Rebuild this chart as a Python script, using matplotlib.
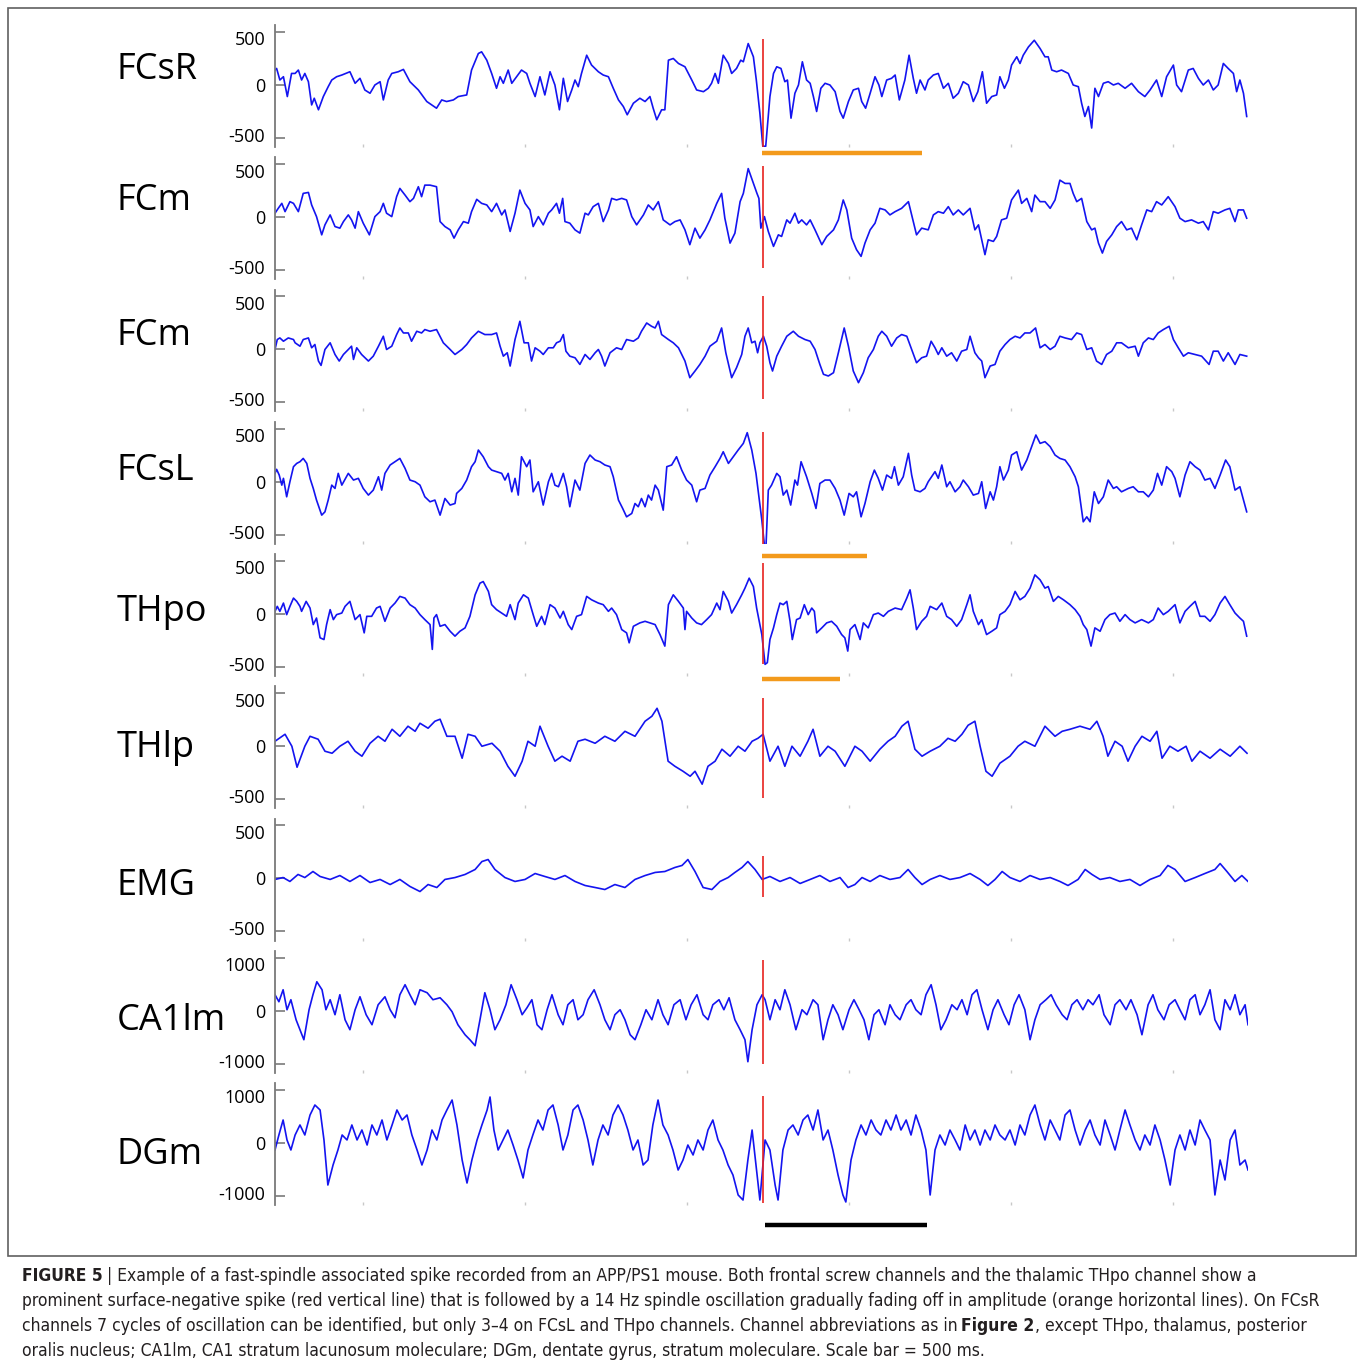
import numpy as np
import matplotlib.pyplot as plt
from matplotlib import transforms
from matplotlib.patches import Rectangle

# channel names and amplitude range (uV) of each panel
channels = ['FCsR', 'FCm', 'FCm', 'FCsL', 'THpo', 'THlp', 'EMG', 'CA1lm', 'DGm']
ranges = [500, 500, 500, 500, 500, 500, 500, 1000, 1000]

# traces as (time ms, amplitude uV)
fcsr = [(0,141),(5,156),(15,47),(26,78),(38,-109),(51,109),(62,109),(72,141),(82,47),(92,109),(103,31),
        (113,-188),(121,-125),(134,-234),(149,-109),(164,-16),(175,47),(190,78),(206,94),(231,125),(247,16),
        (262,63),(277,-47),(293,-78),(308,0),(324,31),(334,-141),(349,47),(360,109),(380,125),(396,147),
        (416,31),(442,-47),(468,-156),(498,-219),(514,-141),(529,-156),(550,-141),(565,-109),(591,-94),
        (606,141),(627,297),(637,313),(653,234),(668,109),(683,-31),(694,78),(704,16),(719,141),(730,16),
        (745,78),(760,141),(776,109),(786,16),(802,-109),(817,78),(832,-94),(848,125),(863,0),(877,-234),
        (889,63),(902,-156),(915,-47),(925,47),(935,-16),(945,109),(961,281),(976,188),(997,125),(1012,94),
        (1028,78),(1043,-31),(1059,-141),(1074,-203),(1086,-281),(1105,-172),(1125,-125),(1141,-156),
        (1156,-109),(1166,-219),(1177,-328),(1192,-234),(1202,-234),(1213,234),(1228,250),(1244,203),
        (1264,172),(1285,47),(1300,-47),(1321,-63),(1336,-31),(1346,16),(1357,109),(1367,16),(1382,281),
        (1398,203),(1408,109),(1423,156),(1436,234),(1444,219),(1459,391),(1475,266),(1484,47),(1495,-266),
        (1504,-578),(1513,-578),(1526,-109),(1537,109),(1547,172),(1560,156),(1572,31),(1580,47),(1591,-313),
        (1603,-78),(1614,0),(1626,219),(1639,47),(1650,16),(1660,-109),(1670,-250),(1683,-31),(1696,16),
        (1711,0),(1727,-63),(1742,-250),(1752,-313),(1768,-156),(1783,-47),(1799,-31),(1809,-156),(1821,-219),
        (1835,-78),(1850,78),(1862,0),(1871,-109),(1886,47),(1901,63),(1912,94),(1925,-141),(1942,47),
        (1955,281),(1968,63),(1978,-78),(1989,47),(2004,-47),(2014,47),(2030,94),(2045,109),(2061,-31),
        (2076,16),(2091,-125),(2107,-78),(2122,31),(2138,0),(2153,-156),(2167,-63),(2181,125),(2194,-172),
        (2210,-109),(2225,-94),(2235,78),(2249,-31),(2261,47),(2271,188),(2287,266),(2297,203),(2307,281),
        (2323,359),(2341,422),(2359,344),(2374,266),(2384,266),(2395,141),(2410,125),(2425,141),(2446,109),
        (2461,0),(2477,-16),(2487,-172),(2497,-297),(2508,-203),(2518,-406),(2528,-31),(2539,-109),(2554,16),
        (2569,31),(2585,0),(2600,16),(2621,-31),(2641,16),(2662,-63),(2682,-109),(2698,-47),(2718,47),
        (2734,-109),(2749,78),(2770,188),(2780,0),(2795,-63),(2816,141),(2831,156),(2847,63),(2862,0),
        (2878,47),(2893,-47),(2908,0),(2924,203),(2939,156),(2955,109),(2965,-63),(2975,47),(2986,-78),
        (2996,-297)]

fcm_a = [(0,38),(10,84),(21,131),(31,53),(46,147),(57,131),(72,53),(87,225),(103,234),(113,116),(128,6),
         (144,-166),(154,-72),(170,22),(185,-88),(200,-103),(211,-41),(226,22),(236,-25),(247,-103),(257,53),
         (272,-56),(291,-166),(308,6),(324,53),(334,131),(344,38),(360,6),(375,194),(385,272),(401,209),
         (416,147),(427,178),(442,288),(452,194),(462,303),(478,303),(498,288),(509,-41),(524,-88),(540,-119),
         (552,-197),(565,-119),(581,-41),(596,-56),(606,53),(622,169),(637,131),(653,116),(668,53),(683,131),
         (699,22),(709,69),(725,-134),(740,38),(755,256),(771,131),(786,69),(796,-88),(812,6),(827,-72),
         (843,38),(853,69),(868,131),(877,38),(887,178),(894,-41),(909,-56),(925,-119),(940,-150),(956,38),
         (966,22),(981,100),(997,131),(1012,-41),(1028,69),(1038,178),(1053,163),(1069,178),(1084,163),
         (1100,6),(1115,-72),(1136,22),(1151,116),(1166,69),(1182,147),(1197,-25),(1218,-72),(1233,-41),
         (1249,-25),(1264,-119),(1279,-259),(1295,-103),(1310,-197),(1326,-119),(1341,-25),(1362,131),
         (1377,225),(1387,-9),(1403,-244),(1418,-150),(1434,147),(1444,225),(1459,459),(1475,319),(1486,225),
         (1492,178),(1498,-103),(1509,6),(1521,-134),(1537,-275),(1552,-166),(1562,-181),(1578,-25),(1588,-56),
         (1603,38),(1614,-56),(1624,-25),(1639,-72),(1650,-25),(1665,-119),(1686,-259),(1701,-181),(1722,-119),
         (1737,-25),(1752,163),(1763,69),(1778,-197),(1793,-306),(1807,-369),(1819,-244),(1835,-119),(1850,-56),
         (1865,84),(1881,69),(1896,22),(1912,53),(1932,84),(1953,147),(1963,22),(1978,-166),(1994,-103),
         (2014,-119),(2030,22),(2045,53),(2061,38),(2076,100),(2091,22),(2107,69),(2122,22),(2143,84),
         (2158,-119),(2169,-72),(2179,-213),(2189,-353),(2199,-213),(2215,-228),(2225,-181),(2240,-25),
         (2256,-9),(2271,163),(2292,256),(2302,131),(2318,178),(2333,53),(2343,209),(2359,147),(2374,147),
         (2390,84),(2405,163),(2420,350),(2436,319),(2451,319),(2461,225),(2472,147),(2487,178),(2503,-41),
         (2518,-119),(2528,-103),(2539,-244),(2551,-338),(2564,-228),(2580,-166),(2595,-88),(2610,-41),
         (2626,-119),(2641,-103),(2657,-213),(2672,-72),(2688,69),(2703,53),(2718,147),(2734,116),(2754,194),
         (2775,100),(2790,-9),(2806,-41),(2826,-25),(2847,-56),(2862,-41),(2878,-119),(2893,53),(2908,38),
         (2929,69),(2944,84),(2960,-41),(2970,69),(2986,69),(2996,-9)]

fcm_b = [(0,0),(7,94),(15,109),(26,78),(41,109),(57,94),(62,63),(77,31),(87,94),(103,109),(113,16),(123,47),
         (134,-109),(142,-150),(154,0),(170,63),(185,-47),(198,-109),(211,-47),(226,0),(236,31),(242,-94),
         (252,16),(267,-47),(288,-109),(303,-63),(319,31),(334,125),(344,0),(360,31),(375,141),(385,203),
         (396,156),(411,156),(421,78),(437,172),(452,156),(462,188),(478,172),(498,188),(519,63),(540,0),
         (555,-47),(576,0),(591,47),(606,109),(627,172),(647,141),(668,141),(683,156),(694,31),(704,-63),
         (716,-31),(725,-156),(740,94),(755,266),(768,63),(781,63),(791,-109),(802,16),(817,-16),(827,-47),
         (843,16),(858,16),(868,63),(879,78),(889,141),(897,-16),(909,-63),(925,-78),(940,-141),(956,-47),
         (971,-94),(987,-31),(997,0),(1007,-63),(1017,-156),(1033,-31),(1053,16),(1069,0),(1084,94),(1105,78),
         (1120,109),(1130,172),(1146,250),(1161,219),(1172,203),(1182,266),(1192,141),(1213,94),(1228,63),
         (1244,16),(1264,-109),(1279,-266),(1295,-203),(1310,-141),(1326,-63),(1341,31),(1362,78),(1377,203),
         (1390,-31),(1408,-266),(1423,-172),(1439,-47),(1449,125),(1459,203),(1470,63),(1480,78),(1488,-31),
         (1495,63),(1506,125),(1516,31),(1526,-125),(1534,-203),(1547,-63),(1562,31),(1578,125),(1598,172),
         (1614,125),(1634,94),(1650,78),(1665,0),(1680,-141),(1691,-234),(1706,-250),(1722,-219),(1737,-31),
         (1755,203),(1768,31),(1783,-203),(1799,-313),(1814,-219),(1829,-78),(1845,0),(1860,125),(1871,172),
         (1886,125),(1901,31),(1917,109),(1932,141),(1948,125),(1963,0),(1978,-125),(1994,-78),(2009,-63),
         (2023,78),(2035,16),(2045,-47),(2056,16),(2071,-63),(2086,-31),(2102,-109),(2117,-16),(2133,0),
         (2143,125),(2158,-31),(2169,-78),(2179,-109),(2189,-266),(2205,-156),(2220,-141),(2235,-16),(2251,47),
         (2266,94),(2282,125),(2297,109),(2312,156),(2328,156),(2345,203),(2359,16),(2374,47),(2390,0),
         (2405,31),(2420,125),(2436,109),(2456,94),(2472,156),(2487,141),(2503,0),(2518,16),(2533,-109),
         (2549,-141),(2564,-47),(2580,-16),(2595,63),(2610,63),(2631,16),(2652,31),(2662,-63),(2677,63),
         (2693,109),(2708,94),(2723,156),(2739,188),(2757,219),(2770,94),(2785,16),(2801,-63),(2816,-31),
         (2837,-47),(2857,-63),(2880,-141),(2893,-16),(2908,-16),(2924,-109),(2939,-31),(2960,-141),
         (2975,-47),(2996,-63)]

fcsl = [(0,79),(5,117),(13,63),(21,-32),(26,32),(36,-142),(46,0),(57,142),(67,173),(77,189),(87,220),(98,173),
        (108,32),(118,-63),(128,-173),(144,-315),(154,-284),(164,-173),(175,-32),(185,-63),(195,79),(206,-32),
        (226,79),(242,16),(257,32),(272,-63),(288,-126),(303,-79),(319,47),(329,-79),(339,79),(355,158),
        (370,189),(385,220),(401,126),(416,16),(432,0),(447,-32),(462,-142),(478,-189),(493,-173),(509,-315),
        (524,-158),(540,-220),(555,-205),(560,-110),(576,-63),(591,16),(606,142),(617,189),(627,299),(642,236),
        (658,142),(668,110),(683,95),(699,79),(709,16),(719,79),(730,-95),(740,32),(750,-126),(760,236),
        (776,142),(786,205),(796,-95),(812,0),(827,-220),(843,0),(853,79),(863,-32),(874,-47),(889,79),
        (899,-47),(909,-236),(925,16),(940,-79),(956,173),(971,252),(987,205),(1002,189),(1017,158),(1033,142),
        (1043,47),(1059,-173),(1072,-252),(1084,-331),(1100,-299),(1110,-205),(1120,-236),(1130,-158),
        (1141,-236),(1151,-126),(1161,-173),(1172,-32),(1182,-79),(1197,-268),(1208,142),(1223,158),(1238,236),
        (1254,110),(1269,16),(1285,-32),(1300,-189),(1310,-79),(1326,-63),(1341,63),(1357,142),(1372,220),
        (1382,283),(1398,173),(1413,236),(1428,299),(1444,362),(1456,463),(1470,299),(1483,79),(1501,-362),
        (1509,-599),(1514,-599),(1521,-79),(1531,-32),(1547,79),(1557,47),(1567,-126),(1578,-79),(1590,-220),
        (1603,16),(1611,-32),(1622,189),(1639,47),(1655,-110),(1668,-252),(1680,-16),(1696,16),(1711,16),
        (1727,-63),(1742,-173),(1755,-315),(1770,-110),(1783,-142),(1793,-95),(1807,-331),(1819,-205),(1835,0),
        (1848,110),(1860,32),(1873,-79),(1886,63),(1901,32),(1910,142),(1922,-32),(1937,47),(1953,268),
        (1963,63),(1973,-79),(1989,-95),(2004,-63),(2014,0),(2035,95),(2045,32),(2056,158),(2071,-47),(2081,0),
        (2097,-95),(2112,-47),(2122,16),(2138,-47),(2153,-126),(2169,-110),(2179,0),(2191,-252),(2205,-95),
        (2215,-173),(2225,-47),(2235,142),(2246,16),(2261,110),(2271,252),(2287,283),(2302,110),(2318,205),
        (2333,331),(2346,441),(2359,362),(2374,378),(2390,331),(2405,252),(2420,220),(2436,205),(2451,142),
        (2467,47),(2477,-47),(2492,-378),(2503,-331),(2513,-378),(2526,-95),(2539,-205),(2554,-142),(2569,16),
        (2585,-63),(2595,-47),(2610,-95),(2631,-63),(2646,-47),(2662,-95),(2677,-95),(2693,-142),(2708,-79),
        (2721,79),(2734,-32),(2749,142),(2765,95),(2775,32),(2790,-142),(2806,63),(2821,189),(2837,142),
        (2852,110),(2867,16),(2883,32),(2898,-63),(2914,63),(2931,205),(2944,142),(2960,-79),(2975,-47),
        (2996,-284)]

thpo = [(0,25),(7,72),(15,25),(26,103),(36,-6),(46,72),(57,150),(67,119),(77,72),(82,25),(96,119),(108,56),
        (118,-100),(128,-38),(139,-225),(151,-241),(159,-100),(170,41),(180,-53),(190,-6),(206,9),(216,72),
        (231,119),(247,-53),(262,-6),(275,-178),(283,-22),(298,-22),(313,56),(324,72),(339,-69),(355,56),
        (370,103),(385,166),(401,150),(416,88),(432,56),(447,-6),(462,-53),(478,-100),(485,-334),(490,-38),
        (498,-6),(509,-116),(524,-100),(540,-163),(555,-209),(570,-163),(586,-131),(601,-22),(617,181),
        (632,291),(642,306),(658,213),(668,88),(683,41),(699,9),(714,-22),(725,88),(740,-53),(750,103),
        (766,181),(781,150),(796,-6),(807,-116),(822,-22),(832,-100),(848,88),(863,56),(879,-38),(889,25),
        (904,-100),(915,-147),(930,-22),(945,-6),(961,166),(976,134),(997,103),(1012,88),(1028,25),(1038,56),
        (1053,-6),(1069,-147),(1084,-178),(1092,-272),(1105,-116),(1125,-84),(1141,-69),(1156,-84),(1172,-100),
        (1187,-194),(1202,-303),(1213,88),(1228,181),(1244,119),(1259,56),(1264,-147),(1269,25),(1285,-38),
        (1300,-84),(1315,-100),(1331,-53),(1346,-6),(1362,103),(1372,41),(1382,213),(1398,119),(1408,9),
        (1423,88),(1439,181),(1449,244),(1462,338),(1475,259),(1485,56),(1501,-194),(1511,-475),(1518,-459),
        (1526,-241),(1537,-131),(1547,-6),(1557,103),(1567,88),(1578,119),(1588,-69),(1595,-241),(1608,-53),
        (1619,-38),(1632,88),(1644,-6),(1655,56),(1663,25),(1670,-178),(1686,-131),(1701,-84),(1716,-69),
        (1732,-116),(1747,-194),(1757,-225),(1766,-350),(1773,-147),(1788,-100),(1804,-241),(1814,-84),
        (1829,-131),(1845,-6),(1860,9),(1876,-22),(1891,25),(1912,56),(1932,41),(1948,150),(1958,228),(1968,56),
        (1978,-147),(1994,-69),(2009,-22),(2020,72),(2040,41),(2056,103),(2071,-22),(2086,-53),(2102,-116),
        (2117,-53),(2133,88),(2143,181),(2153,25),(2169,-100),(2179,-53),(2194,-194),(2210,-163),(2225,-131),
        (2235,-6),(2251,25),(2266,88),(2282,213),(2297,134),(2312,166),(2328,244),(2343,369),(2359,322),
        (2374,244),(2384,259),(2400,119),(2415,166),(2431,134),(2451,88),(2467,41),(2482,-22),(2492,-100),
        (2503,-147),(2516,-303),(2528,-131),(2544,-163),(2559,-53),(2574,-6),(2590,9),(2605,-69),(2621,-6),
        (2636,-53),(2652,-84),(2672,-53),(2693,-84),(2708,-53),(2723,56),(2739,-6),(2754,25),(2775,88),
        (2790,-84),(2806,25),(2821,72),(2837,119),(2852,-22),(2867,-22),(2883,-69),(2898,-6),(2914,103),
        (2929,166),(2944,88),(2960,9),(2975,-38),(2986,-69),(2996,-209)]

thlp = [(0,47),(31,113),(52,0),(68,-198),(92,0),(108,94),(133,66),(154,-47),(176,-66),(200,0),(225,47),
        (247,-47),(268,-94),(293,28),(318,94),(339,47),(361,160),(385,94),(410,189),(432,141),(447,217),
        (472,170),(493,236),(509,255),(530,94),(555,94),(577,-113),(595,113),(617,94),(638,0),(669,28),
        (694,-47),(718,-189),(740,-283),(762,-141),(780,47),(802,0),(817,189),(842,0),(863,-141),(885,-94),
        (910,-141),(934,47),(956,66),(987,28),(1017,94),(1048,47),(1079,141),(1110,94),(1141,236),(1162,283),
        (1178,358),(1193,236),(1212,-141),(1233,-189),(1258,-236),(1280,-283),(1295,-236),(1317,-358),
        (1335,-189),(1357,-141),(1378,-28),(1403,-94),(1428,0),(1449,-47),(1471,47),(1489,75),(1505,113),
        (1526,-141),(1551,0),(1572,-189),(1594,0),(1619,-94),(1643,47),(1659,160),(1680,-94),(1705,0),
        (1727,-47),(1757,-189),(1788,0),(1810,-47),(1835,-141),(1865,-28),(1890,47),(1912,94),(1933,189),
        (1952,236),(1973,-28),(1995,-94),(2020,-47),(2050,0),(2075,75),(2097,47),(2118,113),(2137,198),
        (2158,236),(2174,0),(2192,-236),(2211,-283),(2235,-160),(2266,-94),(2291,0),(2312,47),(2343,0),
        (2374,189),(2405,94),(2427,141),(2451,160),(2482,189),(2513,160),(2534,236),(2553,94),(2568,-94),
        (2590,47),(2612,0),(2630,-141),(2652,0),(2673,94),(2698,47),(2719,141),(2735,-113),(2759,0),
        (2784,-47),(2809,0),(2827,-141),(2852,-47),(2883,-113),(2914,-28),(2945,-94),(2975,0),(2997,-66)]

emg = [(0,-9),(25,9),(46,-28),(71,38),(92,9),(117,66),(139,19),(170,-9),(200,28),(231,-28),(262,28),(293,-38),
       (324,-9),(355,-57),(385,-9),(416,-75),(447,-123),(472,-57),(499,-85),(524,-9),(555,9),(586,38),(617,85),
       (638,160),(657,179),(678,85),(709,9),(740,-28),(771,-9),(802,47),(832,19),(863,-9),(894,28),(925,-28),
       (956,-66),(987,-85),(1017,-104),(1048,-57),(1079,-85),(1110,-9),(1141,28),(1172,57),(1202,66),(1233,104),
       (1255,123),(1273,179),(1295,66),(1320,-85),(1347,-104),(1372,-28),(1397,9),(1418,57),(1440,104),
       (1458,160),(1480,85),(1502,-9),(1526,19),(1557,-28),(1588,9),(1619,-47),(1650,-9),(1680,28),(1711,-28),
       (1742,9),(1767,-85),(1788,-57),(1810,9),(1835,-28),(1865,28),(1896,-9),(1927,9),(1952,85),(1973,9),
       (1995,-57),(2020,-9),(2050,28),(2081,-9),(2112,9),(2143,47),(2174,-9),(2198,-66),(2220,-9),(2242,66),
       (2266,9),(2297,-28),(2328,28),(2359,-9),(2390,9),(2420,-28),(2445,-66),(2476,-9),(2498,85),(2519,38),
       (2544,-9),(2574,9),(2605,-28),(2636,-9),(2667,-66),(2698,-9),(2729,28),(2753,123),(2775,85),(2806,-28),
       (2837,9),(2867,47),(2898,85),(2914,141),(2935,66),(2960,-28),(2981,28),(3000,-28)]

ca1lm = [(0,302),(12,170),(25,396),(37,19),(49,208),(65,-170),(77,-358),(89,-547),(105,19),(117,302),(129,547),
         (145,396),(157,19),(170,208),(185,-75),(200,302),(216,-170),(231,-358),(247,19),(262,264),(281,-75),
         (299,-264),(318,113),(339,264),(355,19),(370,-132),(385,302),(401,491),(416,302),(432,113),(447,396),
         (469,340),(487,208),(509,245),(530,113),(546,-19),(564,-264),(586,-453),(601,-547),(617,-660),
         (632,-170),(647,340),(663,19),(678,-358),(694,-170),(712,113),(728,491),(746,208),(762,-75),(777,57),
         (792,208),(808,-264),(823,-358),(839,19),(854,302),(873,-75),(888,-264),(903,113),(919,208),(934,-170),
         (950,-75),(965,208),(984,396),(1002,113),(1017,-170),(1033,-358),(1048,-75),(1064,19),(1079,-170),
         (1095,-453),(1110,-547),(1128,-264),(1144,19),(1162,-170),(1181,208),(1196,-75),(1212,-264),(1230,113),
         (1249,208),(1267,-170),(1283,113),(1301,302),(1320,-75),(1335,-170),(1350,113),(1369,208),(1384,19),
         (1400,245),(1418,-170),(1434,-358),(1449,-547),(1458,-962),(1471,-358),(1486,113),(1502,302),
         (1511,208),(1526,-170),(1542,208),(1557,19),(1572,396),(1588,113),(1606,-358),(1625,19),(1640,-75),
         (1659,208),(1674,113),(1690,-547),(1705,-170),(1720,113),(1736,-75),(1751,-358),(1770,19),(1785,208),
         (1801,19),(1816,-170),(1831,-547),(1847,-75),(1862,19),(1881,-264),(1896,113),(1912,-75),(1927,-170),
         (1946,113),(1961,208),(1976,19),(1992,-75),(2007,302),(2023,491),(2038,113),(2053,-358),(2069,-170),
         (2087,113),(2103,19),(2118,208),(2134,-75),(2149,302),(2164,396),(2180,19),(2198,-358),(2214,19),
         (2229,208),(2248,-75),(2263,-264),(2279,113),(2294,302),(2312,19),(2328,-547),(2343,-170),(2359,113),
         (2377,208),(2393,302),(2408,113),(2427,-75),(2442,-170),(2457,113),(2473,208),(2491,19),(2507,208),
         (2522,113),(2541,302),(2556,-75),(2575,-264),(2590,113),(2605,208),(2624,19),(2639,208),(2658,-75),
         (2673,-453),(2692,113),(2707,302),(2722,19),(2741,-170),(2757,113),(2775,208),(2790,19),(2806,-170),
         (2821,208),(2837,302),(2852,-75),(2867,113),(2883,396),(2898,-170),(2914,-358),(2929,208),(2945,19),
         (2960,302),(2975,-75),(2991,113),(3000,-264)]

dgm = [(0,-132),(12,151),(25,434),(37,57),(49,-132),(62,151),(77,340),(92,151),(108,528),(123,717),(139,623),
       (151,57),(163,-793),(179,-415),(194,-132),(207,151),(222,57),(237,340),(253,57),(268,245),(284,-38),
       (299,340),(314,151),(330,434),(345,57),(361,340),(376,623),(392,434),(407,528),(422,151),(438,-132),
       (453,-415),(469,-132),(484,245),(499,57),(515,434),(530,623),(546,811),(561,340),(577,-321),(592,-755),
       (607,-321),(623,57),(638,340),(654,623),(663,868),(675,245),(688,-132),(703,57),(718,245),(734,-38),
       (749,-321),(765,-660),(780,-132),(795,151),(811,434),(826,245),(842,623),(857,717),(873,340),(888,-132),
       (903,151),(919,623),(934,717),(950,434),(965,57),(980,-415),(996,57),(1011,340),(1027,151),(1042,528),
       (1058,717),(1073,528),(1088,245),(1104,-132),(1119,57),(1135,-415),(1150,-321),(1165,340),(1181,811),
       (1196,340),(1212,151),(1227,-132),(1243,-510),(1258,-321),(1273,-38),(1289,-226),(1304,57),(1320,-132),
       (1335,245),(1350,434),(1366,57),(1381,-132),(1397,-415),(1412,-604),(1428,-981),(1443,-1076),
       (1458,-321),(1471,245),(1483,-415),(1495,-1076),(1511,57),(1526,-132),(1542,-793),(1551,-1076),
       (1566,-132),(1582,245),(1597,340),(1613,151),(1628,434),(1643,528),(1659,245),(1674,623),(1690,57),
       (1705,245),(1720,-132),(1736,-604),(1751,-981),(1760,-1113),(1776,-321),(1791,57),(1807,340),(1822,151),
       (1838,434),(1853,245),(1868,151),(1884,434),(1899,245),(1915,528),(1930,245),(1946,434),(1961,151),
       (1976,528),(1992,245),(2007,-132),(2020,-981),(2035,-132),(2050,151),(2066,-38),(2081,245),(2097,57),
       (2112,-132),(2128,340),(2143,57),(2158,245),(2174,-38),(2189,245),(2205,57),(2220,340),(2235,151),
       (2251,57),(2266,245),(2282,-38),(2297,340),(2312,151),(2328,528),(2343,717),(2359,340),(2374,57),
       (2390,434),(2405,245),(2420,57),(2436,528),(2451,623),(2467,245),(2482,-38),(2498,245),(2513,434),
       (2528,151),(2544,-38),(2559,434),(2575,151),(2590,-132),(2605,245),(2621,623),(2636,340),(2652,57),
       (2667,-132),(2682,151),(2698,-38),(2713,340),(2729,57),(2744,-321),(2760,-793),(2775,-132),(2790,151),
       (2806,-132),(2821,245),(2837,-38),(2852,434),(2867,245),(2883,57),(2898,-981),(2914,-321),(2929,-698),
       (2945,57),(2960,245),(2975,-415),(2991,-321),(3000,-510)]

traces = [fcsr, fcm_a, fcm_b, fcsl, thpo, thlp, emg, ca1lm, dgm]

# spike marker (red) and spindle extents (orange)
spike_t = 1505
red_top = [434, 480, 500, 470, 480, 455, 210, 960, 890]
red_bot = [-585, -480, -470, -590, -470, -490, -170, -1000, -1130]
spindle = {0: (1500, 1995, -640), 3: (1500, 1825, -705), 4: (1500, 1742, -613)}
scale_bar = (1510, 2010, -1550)

W, H = 1358, 1367
fig = plt.figure(figsize=(W / 100, H / 100), dpi=100)
fig.patch.set_facecolor('white')

font = ['Open Sans', 'DejaVu Sans']
blue = '#1414f0'
gray = '#7a7a7a'

label_y = [70, 201, 336, 471, 612, 748, 886, 1021, 1155]

for i, name in enumerate(channels):
    r = ranges[i]
    y0 = 85 + i * 132.25
    ax = fig.add_axes([275 / W, 1 - (y0 + 62) / H, 973 / W, 122 / H])
    ax.set_facecolor('none')
    d = np.array(traces[i], dtype=float)
    ax.plot(d[:, 0], d[:, 1], color=blue, lw=1.2)
    ax.vlines(spike_t, red_bot[i], red_top[i], color='#e8231f', lw=1.2, zorder=3)
    if i in spindle:
        t0, t1, yv = spindle[i]
        ax.hlines(yv, t0, t1, color='#f39a1c', lw=3.2, clip_on=False, zorder=4)
    if i == len(channels) - 1:
        ax.hlines(scale_bar[2], scale_bar[0], scale_bar[1], color='black', lw=3.2, clip_on=False)

    ax.set_xlim(0, 3000)
    ax.set_ylim(-585 * r / 500, 566 * r / 500)
    for s in ['top', 'right', 'bottom']:
        ax.spines[s].set_visible(False)
    ax.spines['left'].set_color(gray)
    ax.spines['left'].set_linewidth(1.3)
    ax.set_yticks([-r, 0, r])
    ax.set_yticklabels([f'-{r}', '0', f'{r}'], fontsize=13, family=font)
    ax.tick_params(axis='y', direction='in', length=7, width=1.2, color=gray, pad=7)
    ax.set_xticks([270, 770, 1270, 1770, 2270, 2770])
    ax.set_xticklabels([])
    ax.tick_params(axis='x', direction='in', length=2, width=1, color='#c8c8c8')
    labs = ax.get_yticklabels()
    labs[0].set_transform(labs[0].get_transform() + transforms.ScaledTranslation(0, 0.03, fig.dpi_scale_trans))
    labs[2].set_transform(labs[2].get_transform() + transforms.ScaledTranslation(0, -0.065, fig.dpi_scale_trans))

    fig.text(117 / W, 1 - label_y[i] / H, name, fontsize=26, family=font, va='center', ha='left')

# frame around the figure panel
fig.add_artist(Rectangle((8 / W, 1 - 1256 / H), 1348 / W, 1248 / H, transform=fig.transFigure,
                         fill=False, edgecolor='#606060', lw=1.2))

# caption
cap_font = ['DejaVu Sans']
caption = [
    [('FIGURE 5', 'bold', 1), ('| Example of a fast-spindle associated spike recorded from an APP/PS1 mouse. '
      'Both frontal screw channels and the thalamic THpo channel show a', 'normal', 0)],
    [('prominent surface-negative spike (red vertical line) that is followed by a 14 Hz spindle oscillation '
      'gradually fading off in amplitude (orange horizontal lines). On FCsR', 'normal', 0)],
    [('channels 7 cycles of oscillation can be identified, but only 3\u20134 on FCsL and THpo channels. '
      'Channel abbreviations as in', 'normal', 1), ('Figure 2', 'bold', 0),
     (', except THpo, thalamus, posterior', 'normal', 0)],
    [('oralis nucleus; CA1lm, CA1 stratum lacunosum moleculare; DGm, dentate gyrus, stratum moleculare. '
      'Scale bar = 500 ms.', 'normal', 0)],
]
renderer = fig.canvas.get_renderer()
probe = fig.text(0, 0, caption[1][0][0], fontsize=12, family=cap_font, fontstretch='condensed')
size = 12 * 1294 / probe.get_window_extent(renderer).width
probe.remove()
for k, parts in enumerate(caption):
    x = 22
    for txt, weight, gap in parts:
        t = fig.text(x / W, 1 - (1276 + 25 * k) / H, txt, fontsize=size, fontweight=weight,
                     family=cap_font, fontstretch='condensed', va='center', ha='left', color='#231f20')
        x += t.get_window_extent(renderer).width + gap * size * 0.3

fig.savefig('out.png', dpi=100, facecolor='white')
